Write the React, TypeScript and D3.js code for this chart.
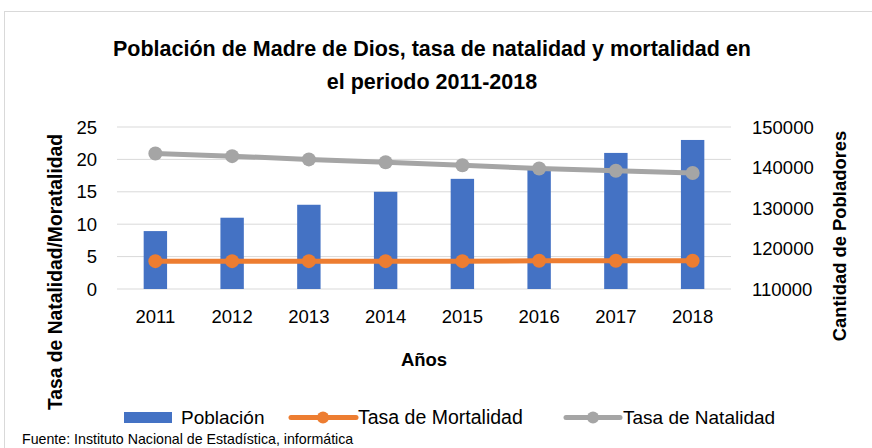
import React from "react";
import * as d3 from "d3";

const years = ["2011", "2012", "2013", "2014", "2015", "2016", "2017", "2018"];
const poblacion = [124300, 127600, 130800, 134000, 137200, 140100, 143600, 146800];
const mortalidad = [4.3, 4.3, 4.3, 4.3, 4.3, 4.35, 4.35, 4.35];
const natalidad = [20.9, 20.5, 20.0, 19.55, 19.1, 18.6, 18.25, 17.9];
const leftTicks = [0, 5, 10, 15, 20, 25];
const rightTicks = [110000, 120000, 130000, 140000, 150000];

const BLUE = "#4472C4";
const ORANGE = "#ED7D31";
const GREY = "#A5A5A5";
const FONT = "'Liberation Sans', Arial, sans-serif";

export default function App() {
  const W = 872, H = 448;
  const x = d3.scaleBand<string>().domain(years).range([117, 731]).paddingInner(0.695).paddingOuter(0.3475);
  const yL = d3.scaleLinear().domain([0, 25]).range([289, 127]);
  const yR = d3.scaleLinear().domain([110000, 150000]).range([289, 127]);
  const cx = (y: string) => (x(y) as number) + x.bandwidth() / 2;

  const lineGen = d3.line<number>().x((_, i) => cx(years[i])).y((d) => yL(d));

  return (
    <svg width={W} height={H} style={{ position: "absolute", left: 0, top: 0, background: "#fff" }} fontFamily={FONT}>
      <rect x={4.5} y={11.5} width={900} height={460} fill="#fff" stroke="#D9D9D9" strokeWidth={1} />
      <text x={432} y={56} textAnchor="middle" fontSize={21.5} fontWeight="bold" fill="#000">
        Población de Madre de Dios, tasa de natalidad y mortalidad en
      </text>
      <text x={432} y={89} textAnchor="middle" fontSize={21.5} fontWeight="bold" fill="#000">
        el periodo 2011-2018
      </text>

      {leftTicks.map((t) => (
        <line key={"g" + t} x1={117} x2={731} y1={yL(t)} y2={yL(t)} stroke="#D9D9D9" strokeWidth={1} />
      ))}
      {leftTicks.map((t) => (
        <text key={"l" + t} x={97} y={yL(t) + 6.5} textAnchor="end" fontSize={18.5} fill="#000">
          {t}
        </text>
      ))}
      {rightTicks.map((t) => (
        <text key={"r" + t} x={752} y={yR(t) + 6.5} textAnchor="start" fontSize={18.5} fill="#000">
          {t}
        </text>
      ))}
      {years.map((y) => (
        <text key={"x" + y} x={cx(y)} y={323} textAnchor="middle" fontSize={18.5} fill="#000">
          {y}
        </text>
      ))}

      {poblacion.map((v, i) => (
        <rect key={"b" + i} x={x(years[i])} y={yR(v)} width={x.bandwidth()} height={yR(110000) - yR(v)} fill={BLUE} />
      ))}

      <path d={lineGen(mortalidad) || ""} fill="none" stroke={ORANGE} strokeWidth={5} strokeLinejoin="round" />
      {mortalidad.map((v, i) => (
        <circle key={"m" + i} cx={cx(years[i])} cy={yL(v)} r={7} fill={ORANGE} />
      ))}
      <path d={lineGen(natalidad) || ""} fill="none" stroke={GREY} strokeWidth={5} strokeLinejoin="round" />
      {natalidad.map((v, i) => (
        <circle key={"n" + i} cx={cx(years[i])} cy={yL(v)} r={7} fill={GREY} />
      ))}

      <text x={424} y={366} textAnchor="middle" fontSize={18.5} fontWeight="bold" fill="#000">Años</text>
      <text transform="translate(62,272) rotate(-90)" textAnchor="middle" fontSize={19.3} fontWeight="bold" fill="#000">
        Tasa de Natalidad/Moratalidad
      </text>
      <text transform="translate(846,236) rotate(-90)" textAnchor="middle" fontSize={18.4} fontWeight="bold" fill="#000">
        Cantidad de Pobladores
      </text>

      <rect x={124} y={412} width={48} height={11} fill={BLUE} />
      <text x={181} y={424} fontSize={19} fill="#000">Población</text>
      <line x1={291} x2={356} y1={417.5} y2={417.5} stroke={ORANGE} strokeWidth={5} strokeLinecap="round" />
      <circle cx={323} cy={417.5} r={6} fill={ORANGE} />
      <text x={358} y={424} fontSize={19.5} fill="#000">Tasa de Mortalidad</text>
      <line x1={566} x2={620} y1={417.5} y2={417.5} stroke={GREY} strokeWidth={5} strokeLinecap="round" />
      <circle cx={593} cy={417.5} r={6} fill={GREY} />
      <text x={623} y={424} fontSize={19} fill="#000">Tasa de Natalidad</text>

      <text x={22} y={444} fontSize={14.2} fill="#000">Fuente: Instituto Nacional de Estadística, informática</text>
    </svg>
  );
}
